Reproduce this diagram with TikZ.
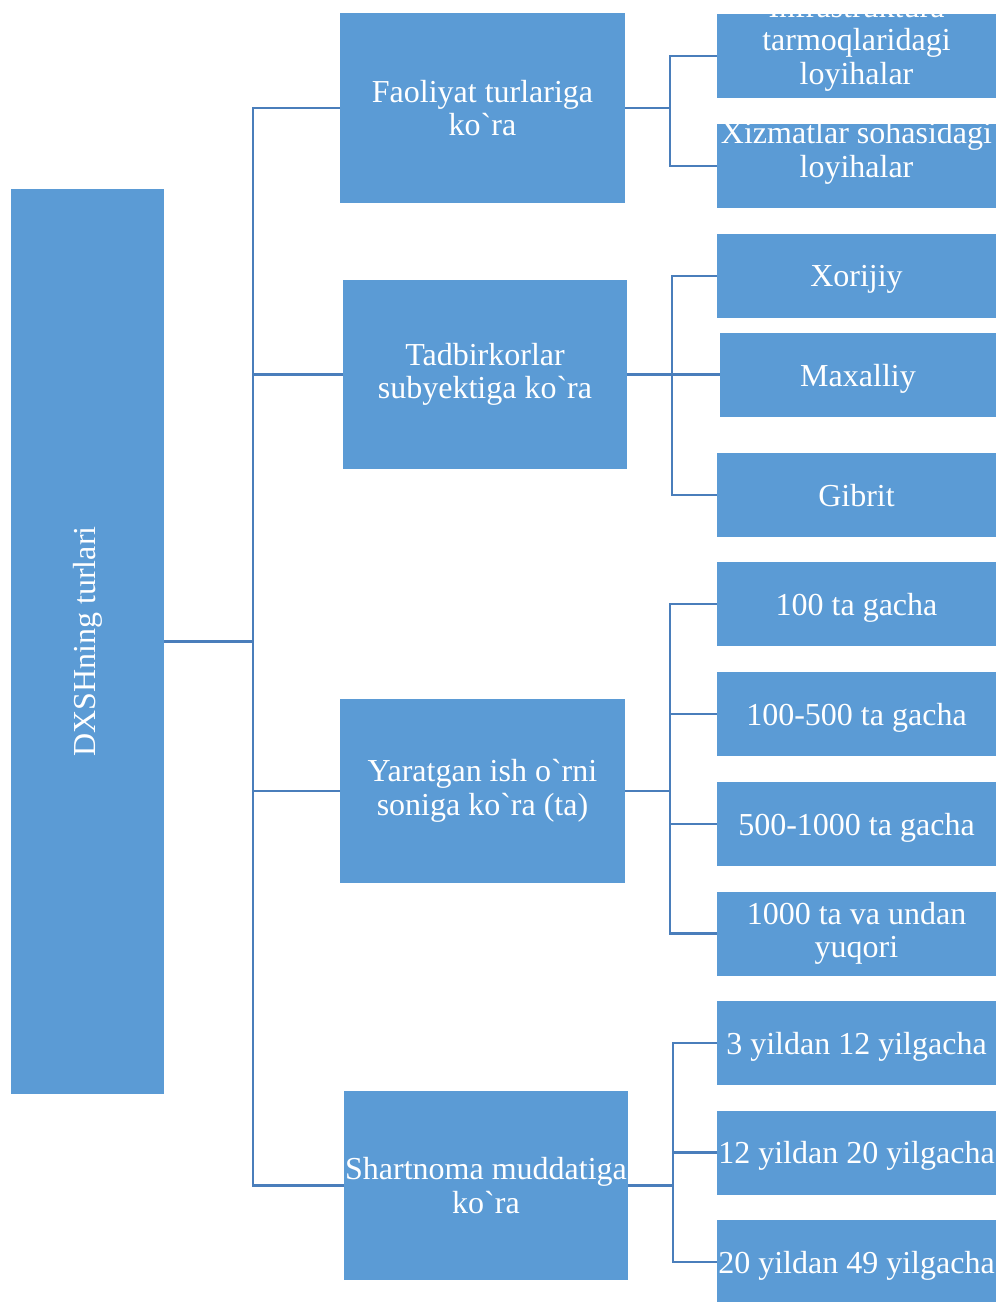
\documentclass[tikz,border=0pt]{standalone}
\usepackage{fontspec}
\setmainfont{Liberation Serif}[Ligatures=TeXOff]
\definecolor{boxblue}{HTML}{5B9BD5}
\definecolor{lineblue}{HTML}{4A7EBB}
\begin{document}
\begin{tikzpicture}[x=1pt,y=-1pt,
  box/.style={fill=boxblue, draw=none, inner sep=0pt, text=white, align=center,
    font=\fontsize{32}{33.5}\selectfont},
  midbox/.style={box, minimum width=285pt, minimum height=190pt},
  leaf/.style={box, minimum width=279pt, minimum height=84pt},
  oneline/.style={text depth=0pt},
  conn/.style={draw=lineblue, line width=2.2pt}]
\useasboundingbox (0,0) rectangle (996,1302);

% root
\node[box, minimum width=153pt, minimum height=905pt] (root) at (87.5,641.5) {\rotatebox{90}{DXSHning turlari}};

% middle level
\node[midbox] (m1) at (482.5,108) {Faoliyat turlariga\\ko`ra};
\node[midbox, minimum width=284pt, minimum height=189pt] (m2) at (485,374.5) {Tadbirkorlar\\subyektiga ko`ra};
\node[midbox, minimum height=184pt] (m3) at (482.5,791) {Yaratgan ish o`rni\\soniga ko`ra (ta)};
\node[midbox, minimum width=284pt, minimum height=189pt] (m4) at (486,1185.5) {Shartnoma muddatiga\\ko`ra};

% leaves
\node[leaf, path picture={\node[text=white, align=center, font=\fontsize{32}{33.5}\selectfont]
  at ([yshift=13pt]path picture bounding box.center) {Infrastruktura\\tarmoqlaridagi\\loyihalar};}] (l1) at (856.5,56) {};
\node[leaf, path picture={\node[text=white, align=center, font=\fontsize{32}{33.5}\selectfont]
  at ([yshift=13pt]path picture bounding box.center) {Xizmatlar sohasidagi\\loyihalar};}] (l2) at (856.5,166) {};
\node[leaf, oneline] (l3) at (856.5,276) {Xorijiy};
\node[leaf, oneline, minimum width=276pt] (l4) at (858,375) {Maxalliy};
\node[leaf, oneline] (l5) at (856.5,495) {Gibrit};
\node[leaf, oneline] (l6) at (856.5,604) {100 ta gacha};
\node[leaf, oneline] (l7) at (856.5,714) {100-500 ta gacha};
\node[leaf, oneline] (l8) at (856.5,824) {500-1000 ta gacha};
\node[leaf] (l9) at (856.5,933.5) {1000 ta va undan\\yuqori};
\node[leaf, oneline] (l10) at (856.5,1043) {3 yildan 12 yilgacha};
\node[leaf, oneline] (l11) at (856.5,1152.5) {12 yildan 20 yilgacha};
\node[leaf, oneline] (l12) at (856.5,1262) {20 yildan 49 yilgacha};

% trunk coordinates
\coordinate (t) at (253,0);
\coordinate (b1) at (670,0);
\coordinate (b2) at (672,0);
\coordinate (b3) at (670,0);
\coordinate (b4) at (673,0);

% root to middle
\draw[conn] (root.east) -- (root.east -| t);
\draw[conn] (m1.west) -- (m1.west -| t) -- (m4.west -| t) -- (m4.west);
\draw[conn] (m2.west -| t) -- (m2.west);
\draw[conn] (m3.west -| t) -- (m3.west);

% group 1
\draw[conn] (m1.east) -- (m1.east -| b1);
\draw[conn] (l1.west) -- (l1.west -| b1) -- (l2.west -| b1) -- (l2.west);

% group 2
\draw[conn] (m2.east) -- (m2.east -| l4.west);
\draw[conn] (l3.west) -- (l3.west -| b2) -- (l5.west -| b2) -- (l5.west);

% group 3
\draw[conn] (m3.east) -- (m3.east -| b3);
\draw[conn] (l6.west) -- (l6.west -| b3) -- (l9.west -| b3) -- (l9.west);
\draw[conn] (l7.west -| b3) -- (l7.west);
\draw[conn] (l8.west -| b3) -- (l8.west);

% group 4
\draw[conn] (m4.east) -- (m4.east -| b4);
\draw[conn] (l10.west) -- (l10.west -| b4) -- (l12.west -| b4) -- (l12.west);
\draw[conn] (l11.west -| b4) -- (l11.west);
\end{tikzpicture}
\end{document}
